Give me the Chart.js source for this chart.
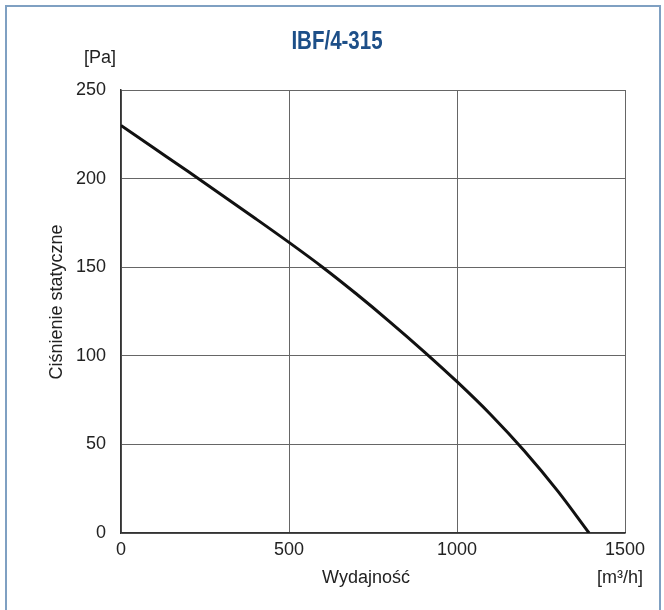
<!DOCTYPE html>
<html>
<head>
<meta charset="utf-8">
<script src="https://cdn.jsdelivr.net/npm/chart.js@4/dist/chart.umd.min.js"></script>
<style>
  html, body { margin: 0; padding: 0; background: #fff; }
  #wrap { width: 664px; height: 610px; position: relative; }
</style>
</head>
<body>
<div id="wrap"><canvas id="fanChart" width="664" height="610"></canvas></div>
<script>
// Krzywa wentylatora IBF/4-315
const flow = [0, 100, 200, 300, 400, 500, 600, 700, 800, 900, 1000, 1100, 1200, 1300, 1393];
const pressure = [230, 217, 204, 190.8, 177.5, 164, 150, 135, 119.2, 102.7, 85.4, 66.9, 46.4, 23.6, 0];
const xTicks = [0, 500, 1000, 1500];
const yTicks = [0, 50, 100, 150, 200, 250];

const labelFont = '"Liberation Sans", Arial, sans-serif';

// rama, tytuł i opisy osi
const extras = {
    id: 'extras',
    beforeDraw(chart) {
        const c = chart.ctx;
        c.save();
        c.fillStyle = '#fff';
        c.fillRect(0, 0, chart.width, chart.height);
        c.strokeStyle = '#7fa0c2';
        c.lineWidth = 2;
        c.beginPath();
        c.moveTo(6, 620);
        c.lineTo(6, 6);
        c.lineTo(660, 6);
        c.lineTo(660, 620);
        c.stroke();
        c.restore();
    },
    afterDraw(chart) {
        const c = chart.ctx;
        c.save();
        // tytuł - węższy krój, ściśnięty w poziomie
        c.save();
        c.translate(337, 42);
        c.scale(0.82, 1);
        c.fillStyle = '#1d4f88';
        c.font = 'bold 25px "Liberation Sans", Arial, sans-serif';
        c.textAlign = 'center';
        c.textBaseline = 'middle';
        c.fillText('IBF/4-315', 0, 0);
        c.restore();

        c.fillStyle = '#222';
        c.font = '18px ' + labelFont;
        c.textAlign = 'center';
        c.textBaseline = 'middle';
        c.fillText('[Pa]', 100, 58);
        c.fillText('Wydajność', 366, 578);
        c.textAlign = 'right';
        c.fillText('[m³/h]', 643, 578);

        c.translate(57, 302);
        c.rotate(-Math.PI / 2);
        c.textAlign = 'center';
        c.fillText('Ciśnienie statyczne', 0, 0);
        c.restore();
    }
};

const ctx = document.getElementById('fanChart').getContext('2d');
const fanChart = new Chart(ctx, {
    type: 'line',
    data: {
        datasets: [{
            label: 'IBF/4-315',
            data: flow.map((q, i) => ({ x: q, y: pressure[i] })),
            borderColor: '#111',
            borderWidth: 3,
            pointRadius: 0,
            fill: false,
            cubicInterpolationMode: 'monotone'
        }]
    },
    options: {
        responsive: false,
        animation: false,
        layout: { padding: { left: 0, top: 90, right: 39, bottom: 0 } },
        plugins: {
            legend: { display: false },
            title: { display: false },
            tooltip: { enabled: false }
        },
        scales: {
            x: {
                type: 'linear',
                min: 0,
                max: 1500,
                afterFit(scale) { scale.height = 77; },
                afterBuildTicks(scale) { scale.ticks = xTicks.map(v => ({ value: v })); },
                grid: { color: '#666', lineWidth: 1, drawTicks: false },
                border: { color: '#333', width: 1.5 },
                ticks: {
                    padding: 6, color: '#222', font: { family: labelFont, size: 18 },
                    callback: v => String(v)
                }
            },
            y: {
                min: 0,
                max: 250,
                afterFit(scale) { scale.width = 121; },
                afterBuildTicks(scale) { scale.ticks = yTicks.map(v => ({ value: v })); },
                grid: { color: '#666', lineWidth: 1, drawTicks: false },
                border: { color: '#333', width: 1.5 },
                ticks: {
                    padding: 15, color: '#222', font: { family: labelFont, size: 18 },
                    callback: v => String(v)
                }
            }
        }
    },
    plugins: [extras]
});
</script>
</body>
</html>
